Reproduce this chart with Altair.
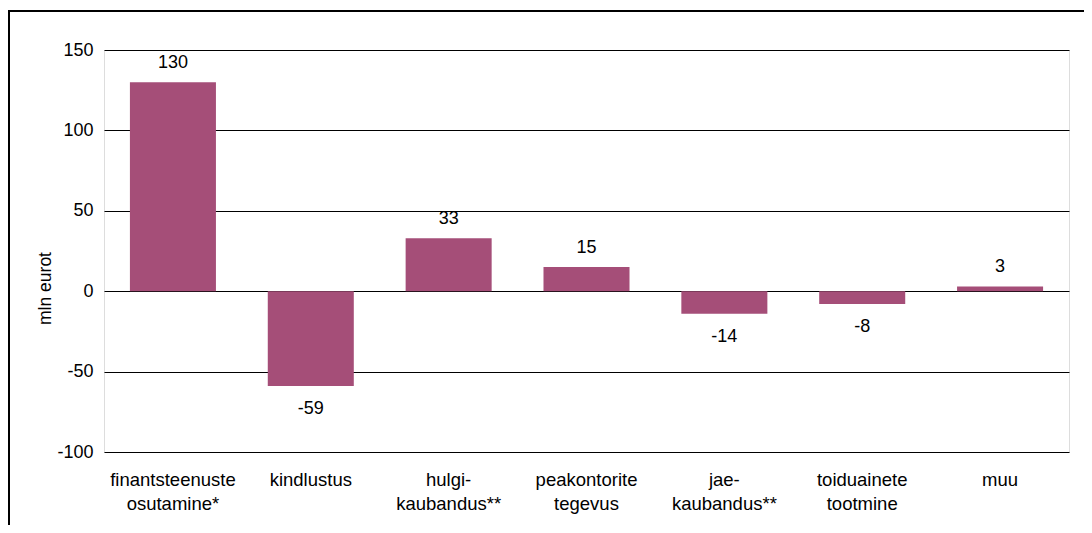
import altair as alt
import pandas as pd

categories = [
    "finantsteenuste|osutamine*",
    "kindlustus",
    "hulgi-|kaubandus**",
    "peakontorite|tegevus",
    "jae-|kaubandus**",
    "toiduainete|tootmine",
    "muu",
]
values = [130, -59, 33, 15, -14, -8, 3]
y_ticks = [-100, -50, 0, 50, 100, 150]

df = pd.DataFrame({"cat": categories, "val": values})

FONT = "Liberation Sans"
BAR = "#a54e78"

x_enc = alt.X(
    "cat:N",
    sort=None,
    title=None,
    scale=alt.Scale(paddingInner=0.376, paddingOuter=0.188),
    axis=alt.Axis(
        labelExpr="split(datum.label, '|')",
        labelAngle=0,
        labelFont=FONT,
        labelFontSize=18.5,
        labelColor="black",
        labelLineHeight=24,
        labelPadding=33,
        labelBaseline="alphabetic",
        ticks=False,
        domain=False,
        grid=False,
    ),
)
y_enc = alt.Y(
    "val:Q",
    title="mln eurot",
    scale=alt.Scale(domain=[-100, 150], nice=False),
    axis=alt.Axis(
        values=y_ticks,
        labelExpr="datum.value + ''",
        labelFont=FONT,
        labelFontSize=18,
        labelColor="black",
        labelPadding=11,
        ticks=False,
        domain=False,
        grid=True,
        gridColor="black",
        gridWidth=1,
        gridOpacity=1,
        titleFont=FONT,
        titleFontSize=17.5,
        titleFontWeight="normal",
        titleColor="black",
        titleAngle=-90,
        titleAlign="center",
        titleBaseline="middle",
        titleX=-59,
        titleY=238,
    ),
)

base = alt.Chart(df).transform_calculate(lbl="datum.val + ''")

bars = base.mark_bar(color=BAR).encode(x=x_enc, y=y_enc)

pos_text = base.transform_filter("datum.val >= 0").mark_text(
    font=FONT, fontSize=18, color="black", baseline="alphabetic", dy=-14
).encode(x=alt.X("cat:N", sort=None), y="val:Q", text="lbl:N")

neg_text = base.transform_filter("datum.val < 0").mark_text(
    font=FONT, fontSize=18, color="black", baseline="alphabetic", dy=28
).encode(x=alt.X("cat:N", sort=None), y="val:Q", text="lbl:N")

frame = alt.Chart(pd.DataFrame({"a": [0]})).mark_rect(
    fill=None, stroke="black", strokeWidth=2
).encode(
    x=alt.value(-95), x2=alt.value(1100), y=alt.value(-39), y2=alt.value(600)
)

chart = alt.layer(bars, pos_text, neg_text, frame).properties(
    width=965,
    height=402,
    padding={"left": 96, "top": 42, "right": 15, "bottom": 73},
    autosize=alt.AutoSizeParams(type="none"),
).configure_view(stroke=None).configure(background="white")

chart.save("out.html", embed_options={"renderer": "svg", "actions": False})
